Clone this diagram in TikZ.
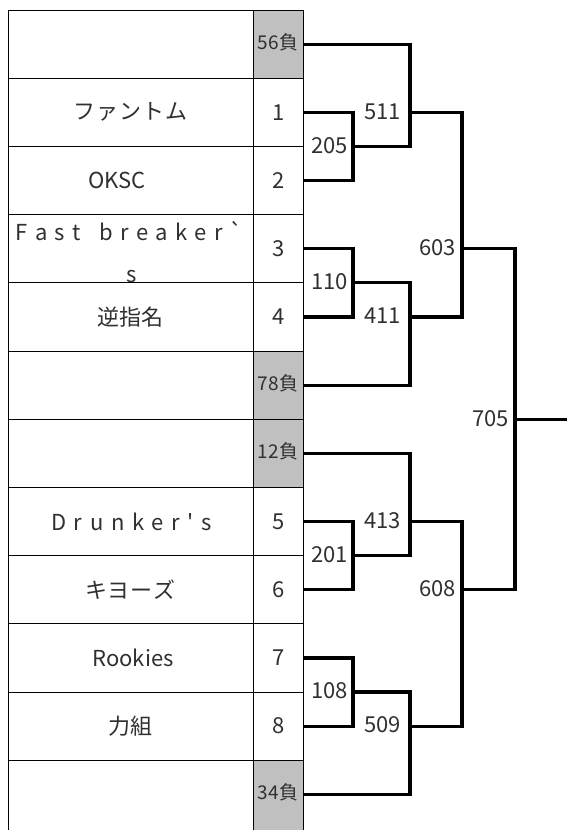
\documentclass[tikz,border=0pt]{standalone}
\usepackage{fontspec}
\setmainfont{Noto Sans CJK JP}[Ligatures=TeXOff]
\newcommand\spaced[2]{\begingroup\def\spgap{#1}\hskip-\spgap\relax\spacedaux#2\relax\endgroup}
\def\spacedaux#1{\ifx#1\relax\else\hskip\spgap\relax#1\expandafter\spacedaux\fi}
\definecolor{cellgray}{HTML}{C0C0C0}
\definecolor{txt}{HTML}{303030}
\begin{document}
\begin{tikzpicture}[x=1pt,y=-1pt,
  grid/.style={line width=0.9pt,black},
  br/.style={line width=3.2pt,black,line join=miter},
  numcell/.style={inner sep=0pt,text=txt,font=\fontsize{22}{26}\selectfont},
  losscell/.style={inner sep=0pt,text=txt,font=\fontsize{19}{23}\selectfont},
  namecell/.style={inner sep=0pt,text=txt,font=\fontsize{22}{26}\selectfont},
  lab/.style={inner sep=0pt,anchor=east,text=txt,font=\fontsize{22}{26}\selectfont}]
\useasboundingbox[fill=white] (0,0) rectangle (567,830);
% gray cells
\fill[cellgray] (253,10) rectangle (303,78.2);
\fill[cellgray] (253,351) rectangle (303,487.4);
\fill[cellgray] (253,760.2) rectangle (303,830);
% grid
\foreach \y in {10,78.2,146.4,214.6,282.8,351,419.2,487.4,555.6,623.8,692,760.2}
  \draw[grid] (8,\y) -- (303,\y);
\foreach \x in {8,253,303}
  \draw[grid] (\x,10) -- (\x,830);
% names
\node[namecell] (t1) at (130.5,112.3) {\spaced{1pt}{ファントム}};
\node[namecell] (t2) at (117,180.5) {OKSC};
\node[namecell,anchor=base] (t3a) at (129.5,240.7) {\spaced{7.2pt}{Fast\ breaker`}};
\node[namecell,anchor=base] (t3b) at (132,282) {s};
\node[namecell] (t4) at (130.5,316.9) {逆指名};
\node[namecell] (t5) at (131.5,521.5) {\spaced{7.6pt}{Drunker's}};
\node[namecell] (t6) at (130.5,589.7) {\spaced{1pt}{キヨーズ}};
\node[namecell] (t7) at (133,657.9) {Rookies};
\node[namecell] (t8) at (130.5,726.1) {力組};
% number cells
\node[losscell,minimum width=50pt] (g56) at (278,42.6) {56負};
\node[numcell,minimum width=50pt] (n1) at (279,112.3) {1};
\node[numcell,minimum width=50pt] (n2) at (279,180.5) {2};
\node[numcell,minimum width=50pt] (n3) at (279,248.7) {3};
\node[numcell,minimum width=50pt] (n4) at (279,316.9) {4};
\node[losscell,minimum width=50pt] (g78) at (278,383.6) {78負};
\node[losscell,minimum width=50pt] (g12) at (278,451.8) {12負};
\node[numcell,minimum width=50pt] (n5) at (279,521.5) {5};
\node[numcell,minimum width=50pt] (n6) at (279,589.7) {6};
\node[numcell,minimum width=50pt] (n7) at (279,657.9) {7};
\node[numcell,minimum width=50pt] (n8) at (279,726.1) {8};
\node[losscell,minimum width=50pt] (g34) at (278,792.8) {34負};
% junctions
\coordinate (m205) at (353,146.4);
\coordinate (m511) at (410,112.3);
\coordinate (m110) at (353,282.8);
\coordinate (m411) at (410,316.9);
\coordinate (m603) at (462,248.7);
\coordinate (m201) at (353,555.6);
\coordinate (m413) at (410,521.5);
\coordinate (m108) at (353,692);
\coordinate (m509) at (410,726.1);
\coordinate (m608) at (462,589.7);
\coordinate (m705) at (515,419.2);
\coordinate (win) at (567,419.2);
% bracket
\draw[br] (n1.east) -| (m205) |- (n2.east);
\draw[br] (g56.east |- 0,44.1) -| (m511) |- (m205);
\draw[br] (n3.east) -| (m110) |- (n4.east);
\draw[br] (m110) -| (m411) |- (g78.east |- 0,385.1);
\draw[br] (m511) -| (m603) |- (m411);
\draw[br] (n5.east) -| (m201) |- (n6.east);
\draw[br] (g12.east |- 0,453.3) -| (m413) |- (m201);
\draw[br] (n7.east) -| (m108) |- (n8.east);
\draw[br] (m108) -| (m509) |- (g34.east |- 0,794.3);
\draw[br] (m413) -| (m608) |- (m509);
\draw[br] (m603) -| (m705) |- (m608);
\draw[br] (m705) -- (win);
% labels
\node[lab] (l205) at (348,145.4) {205};
\node[lab] (l511) at (401,111.3) {511};
\node[lab] (l110) at (348,281.8) {110};
\node[lab] (l411) at (401,315.9) {411};
\node[lab] (l603) at (456,247.7) {603};
\node[lab] (l201) at (348,554.6) {201};
\node[lab] (l413) at (401,520.5) {413};
\node[lab] (l108) at (348,691) {108};
\node[lab] (l509) at (401,725.1) {509};
\node[lab] (l608) at (456,588.7) {608};
\node[lab] (l705) at (509,418.2) {705};
\end{tikzpicture}
\end{document}
